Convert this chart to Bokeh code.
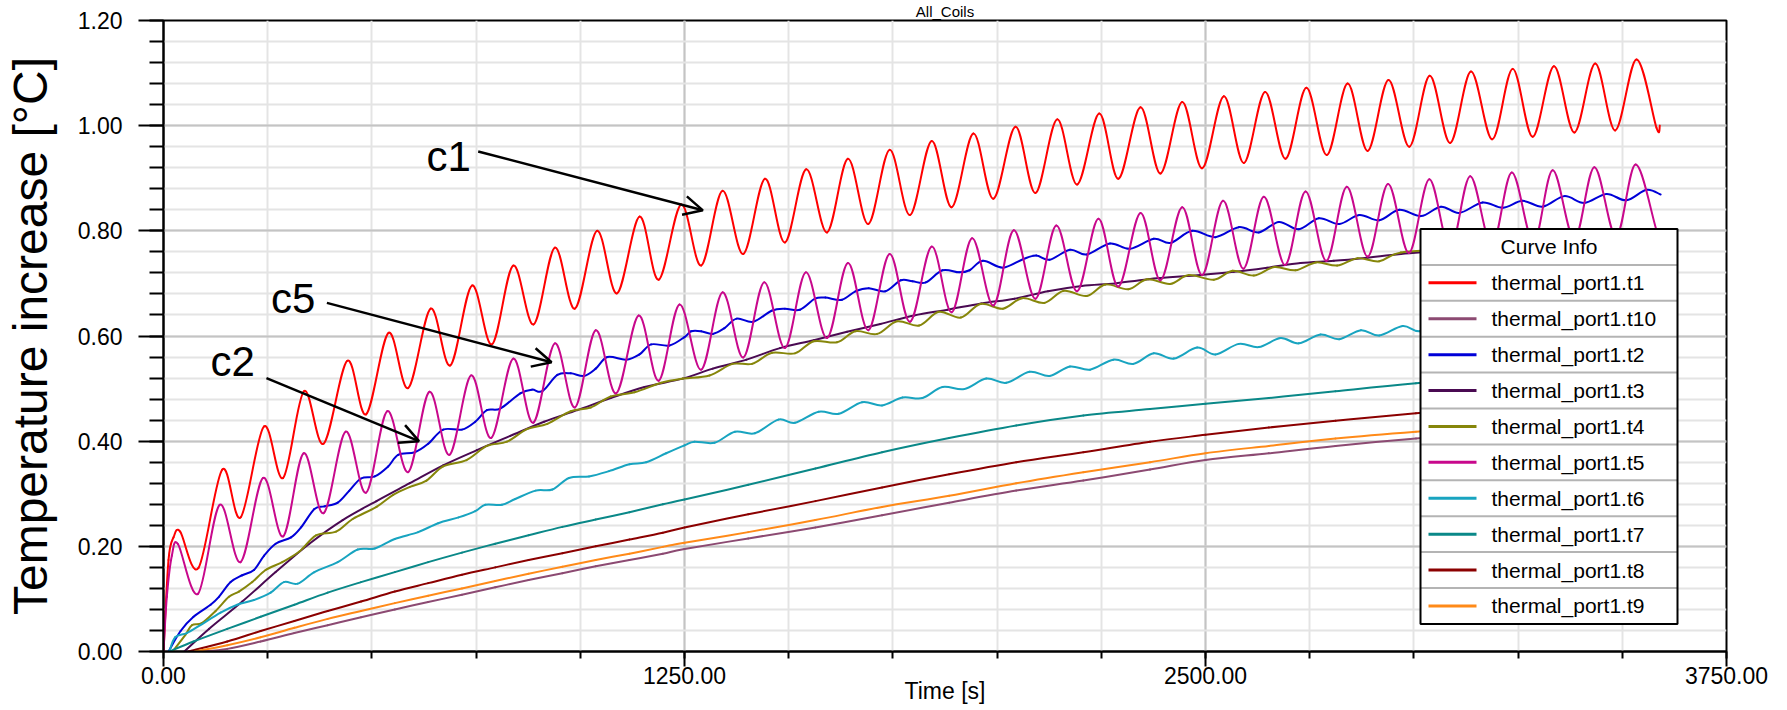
from bokeh.plotting import figure
from bokeh.models import (Range1d, FixedTicker, PrintfTickFormatter,
                          Arrow, OpenHead, Label)
from bokeh.core.properties import value
from bokeh.embed import file_html
from bokeh.resources import INLINE

# ---------------- texts / ticks ----------------
TITLE = "All_Coils"
X_LABEL = "Time [s]"
Y_LABEL = "Temperature increase [°C]"
LEGEND_TITLE = "Curve Info"
X_TICKS = [0, 1250, 2500, 3750]
X_MINOR = [0, 250, 500, 750, 1000, 1250, 1500, 1750, 2000, 2250, 2500,
           2750, 3000, 3250, 3500, 3750]
Y_TICKS = [0.0, 0.2, 0.4, 0.6, 0.8, 1.0, 1.2]
Y_MINOR = [0.00, 0.04, 0.08, 0.12, 0.16, 0.20, 0.24, 0.28, 0.32, 0.36, 0.40,
           0.44, 0.48, 0.52, 0.56, 0.60, 0.64, 0.68, 0.72, 0.76, 0.80, 0.84,
           0.88, 0.92, 0.96, 1.00, 1.04, 1.08, 1.12, 1.16, 1.20]

# ---------------- data: (time [s], temperature increase [°C]) ----------------
T1 = [(0, 0.0), (12, 0.174), (24, 0.217), (40, 0.228),
      (84, 0.159), (141, 0.346), (185, 0.255), (241, 0.428), (287, 0.330), (337, 0.495),
      (384, 0.395), (441, 0.553), (486, 0.451), (540, 0.606), (587, 0.501), (641, 0.652),
      (688, 0.544), (740, 0.696), (788, 0.584), (839, 0.734), (888, 0.622), (939, 0.768),
      (987, 0.652), (1040, 0.800), (1088, 0.681), (1142, 0.827), (1188, 0.707), (1242, 0.850),
      (1290, 0.734), (1341, 0.876), (1391, 0.756), (1443, 0.899), (1491, 0.778), (1542, 0.917),
      (1592, 0.797), (1642, 0.937), (1691, 0.813), (1742, 0.954), (1791, 0.830), (1843, 0.971),
      (1891, 0.845), (1943, 0.985), (1991, 0.861), (2044, 0.998), (2092, 0.872), (2144, 1.012),
      (2192, 0.888), (2245, 1.023), (2291, 0.899), (2344, 1.035), (2392, 0.909), (2444, 1.045),
      (2492, 0.919), (2544, 1.056), (2592, 0.929), (2643, 1.064), (2692, 0.937), (2742, 1.072),
      (2791, 0.944), (2841, 1.080), (2889, 0.952), (2939, 1.087), (2989, 0.960), (3038, 1.095),
      (3087, 0.967), (3137, 1.103), (3188, 0.974), (3237, 1.108), (3285, 0.979), (3336, 1.113),
      (3385, 0.987), (3435, 1.118), (3483, 0.991), (3534, 1.126), (3582, 0.996), (3590, 1.000)]

T10 = [(90, 0.0), (153, 0.005), (233, 0.019), (314, 0.035), (394, 0.050), (474, 0.065),
       (555, 0.080), (635, 0.094), (716, 0.108), (796, 0.122), (876, 0.136), (957, 0.149),
       (1037, 0.162), (1118, 0.174), (1198, 0.186), (1250, 0.195), (1403, 0.215), (1564, 0.236),
       (1724, 0.259), (1885, 0.283), (2046, 0.306), (2207, 0.325), (2367, 0.346), (2500, 0.364),
       (2652, 0.377), (2812, 0.391), (3005, 0.405), (3300, 0.423), (3600, 0.440)]

T2 = [(12, 0.0), (41, 0.039), (72, 0.066), (113, 0.089), (133, 0.104), (161, 0.132),
      (189, 0.145), (217, 0.155), (241, 0.182), (269, 0.205), (306, 0.217), (330, 0.236),
      (362, 0.271), (386, 0.276), (418, 0.283), (446, 0.306), (474, 0.329), (507, 0.333),
      (539, 0.352), (563, 0.374), (603, 0.379), (635, 0.395), (671, 0.422), (716, 0.422),
      (748, 0.437), (776, 0.459), (808, 0.462), (856, 0.491), (884, 0.498), (909, 0.495),
      (945, 0.526), (977, 0.529), (1009, 0.524), (1037, 0.538), (1065, 0.560), (1110, 0.555),
      (1142, 0.565), (1170, 0.584), (1214, 0.582), (1250, 0.598), (1266, 0.609), (1290, 0.609),
      (1318, 0.604), (1346, 0.615), (1375, 0.633), (1415, 0.627), (1459, 0.648), (1491, 0.652),
      (1527, 0.650), (1563, 0.671), (1588, 0.673), (1628, 0.669), (1660, 0.685), (1692, 0.691),
      (1732, 0.685), (1769, 0.706), (1797, 0.704), (1829, 0.702), (1869, 0.725), (1909, 0.721),
      (1934, 0.725), (1966, 0.743), (2014, 0.730), (2062, 0.746), (2094, 0.753), (2126, 0.745),
      (2175, 0.764), (2215, 0.755), (2271, 0.776), (2319, 0.766), (2376, 0.785), (2416, 0.777),
      (2468, 0.800), (2524, 0.788), (2580, 0.807), (2628, 0.797), (2676, 0.817), (2724, 0.803),
      (2772, 0.824), (2821, 0.813), (2869, 0.830), (2917, 0.820), (2965, 0.840), (3017, 0.828),
      (3065, 0.846), (3109, 0.834), (3165, 0.854), (3213, 0.844), (3261, 0.857), (3309, 0.846),
      (3361, 0.866), (3409, 0.853), (3462, 0.870), (3510, 0.858), (3558, 0.878), (3592, 0.869)]

T3 = [(50, 0.0), (109, 0.043), (189, 0.095), (269, 0.151), (350, 0.205), (430, 0.250),
      (511, 0.286), (591, 0.320), (671, 0.354), (752, 0.383), (832, 0.410), (913, 0.437),
      (993, 0.459), (1073, 0.482), (1154, 0.503), (1246, 0.519), (1318, 0.538), (1399, 0.555),
      (1479, 0.577), (1560, 0.592), (1640, 0.608), (1720, 0.623), (1801, 0.639), (1881, 0.650),
      (1962, 0.662), (2042, 0.671), (2122, 0.685), (2203, 0.695), (2283, 0.700), (2363, 0.708),
      (2488, 0.716), (2568, 0.722), (2648, 0.730), (2728, 0.739), (2808, 0.743), (2889, 0.749),
      (2969, 0.756), (3100, 0.764), (3300, 0.775), (3600, 0.790)]

T4 = [(22, 0.0), (52, 0.031), (68, 0.050), (92, 0.054), (125, 0.077), (157, 0.104),
      (181, 0.114), (213, 0.132), (245, 0.155), (285, 0.170), (326, 0.190), (366, 0.221),
      (414, 0.228), (454, 0.252), (511, 0.275), (551, 0.298), (591, 0.313), (631, 0.325),
      (671, 0.352), (727, 0.364), (776, 0.391), (824, 0.399), (872, 0.423), (921, 0.433),
      (977, 0.457), (1025, 0.464), (1073, 0.485), (1130, 0.493), (1194, 0.511), (1246, 0.519),
      (1310, 0.525), (1365, 0.547), (1412, 0.547), (1460, 0.568), (1515, 0.567), (1560, 0.590),
      (1616, 0.588), (1660, 0.609), (1712, 0.604), (1760, 0.628), (1813, 0.620), (1860, 0.646),
      (1913, 0.635), (1960, 0.661), (2014, 0.652), (2060, 0.672), (2114, 0.663), (2160, 0.686),
      (2215, 0.676), (2260, 0.698), (2315, 0.689), (2360, 0.708), (2415, 0.699), (2460, 0.716),
      (2520, 0.707), (2565, 0.724), (2616, 0.715), (2665, 0.731), (2716, 0.725), (2765, 0.740),
      (2816, 0.734), (2865, 0.748), (2917, 0.742), (2969, 0.759), (3100, 0.765), (3300, 0.775),
      (3600, 0.790)]

T5 = [(0, 0.0), (8, 0.104), (20, 0.182), (35, 0.204),
      (83, 0.110), (135, 0.279), (185, 0.170), (239, 0.330), (287, 0.219), (336, 0.377),
      (384, 0.263), (437, 0.418), (486, 0.302), (537, 0.457), (587, 0.341), (638, 0.494),
      (686, 0.374), (738, 0.525), (786, 0.406), (839, 0.557), (887, 0.435), (939, 0.586),
      (987, 0.464), (1037, 0.611), (1086, 0.491), (1140, 0.639), (1188, 0.515), (1238, 0.660),
      (1290, 0.536), (1341, 0.683), (1391, 0.559), (1441, 0.702), (1491, 0.577), (1541, 0.721),
      (1592, 0.596), (1642, 0.739), (1691, 0.611), (1742, 0.756), (1791, 0.627), (1843, 0.770),
      (1891, 0.645), (1940, 0.786), (1991, 0.658), (2040, 0.801), (2092, 0.671), (2142, 0.810),
      (2192, 0.685), (2243, 0.823), (2291, 0.694), (2344, 0.834), (2392, 0.706), (2444, 0.845),
      (2492, 0.716), (2542, 0.857), (2591, 0.728), (2640, 0.865), (2691, 0.735), (2740, 0.875),
      (2790, 0.743), (2839, 0.884), (2889, 0.751), (2938, 0.889), (2988, 0.758), (3037, 0.898),
      (3087, 0.765), (3135, 0.904), (3187, 0.772), (3235, 0.911), (3287, 0.778), (3333, 0.915),
      (3385, 0.784), (3433, 0.921), (3485, 0.789), (3532, 0.926), (3585, 0.794), (3600, 0.800)]

T6 = [(14, 0.0), (28, 0.027), (56, 0.035), (88, 0.050), (137, 0.074), (177, 0.089),
      (217, 0.098), (257, 0.112), (289, 0.132), (322, 0.129), (362, 0.151), (418, 0.170),
      (466, 0.194), (507, 0.196), (555, 0.214), (611, 0.227), (659, 0.244), (708, 0.255),
      (748, 0.267), (772, 0.279), (812, 0.279), (844, 0.290), (893, 0.306), (933, 0.308),
      (973, 0.330), (1021, 0.333), (1069, 0.343), (1118, 0.356), (1158, 0.360), (1206, 0.377),
      (1250, 0.392), (1274, 0.399), (1322, 0.397), (1371, 0.418), (1419, 0.415), (1475, 0.441),
      (1515, 0.435), (1572, 0.456), (1620, 0.452), (1676, 0.474), (1724, 0.468), (1773, 0.483),
      (1821, 0.482), (1869, 0.503), (1921, 0.499), (1974, 0.519), (2022, 0.511), (2078, 0.532),
      (2126, 0.524), (2175, 0.542), (2223, 0.536), (2279, 0.555), (2327, 0.547), (2376, 0.567),
      (2424, 0.557), (2480, 0.578), (2524, 0.565), (2580, 0.585), (2628, 0.579), (2680, 0.596),
      (2724, 0.586), (2776, 0.603), (2821, 0.594), (2873, 0.611), (2917, 0.601), (2973, 0.619),
      (3014, 0.609), (3075, 0.627), (3300, 0.640), (3600, 0.660)]

T7 = [(14, 0.0), (72, 0.019), (153, 0.043), (233, 0.066), (314, 0.089), (394, 0.112),
      (474, 0.132), (555, 0.151), (635, 0.170), (716, 0.188), (796, 0.205), (876, 0.221),
      (957, 0.237), (1037, 0.251), (1118, 0.265), (1198, 0.280), (1250, 0.289), (1403, 0.317),
      (1564, 0.348), (1724, 0.379), (1885, 0.406), (2046, 0.430), (2207, 0.449), (2367, 0.461),
      (2500, 0.471), (2652, 0.482), (2812, 0.495), (3005, 0.510), (3300, 0.530), (3600, 0.550)]

T8 = [(60, 0.0), (153, 0.019), (233, 0.039), (314, 0.058), (394, 0.077), (474, 0.095),
      (555, 0.114), (635, 0.130), (716, 0.146), (796, 0.160), (876, 0.174), (957, 0.187),
      (1037, 0.200), (1118, 0.213), (1198, 0.226), (1250, 0.236), (1403, 0.261), (1564, 0.286),
      (1724, 0.312), (1885, 0.337), (2046, 0.360), (2207, 0.379), (2367, 0.399), (2500, 0.412),
      (2652, 0.426), (2812, 0.439), (3005, 0.453), (3300, 0.472), (3600, 0.490)]

T9 = [(75, 0.0), (153, 0.012), (233, 0.027), (314, 0.045), (394, 0.062), (474, 0.077),
      (555, 0.092), (635, 0.106), (716, 0.120), (796, 0.134), (876, 0.148), (957, 0.161),
      (1037, 0.174), (1118, 0.186), (1198, 0.199), (1250, 0.207), (1403, 0.227), (1564, 0.250),
      (1724, 0.275), (1885, 0.296), (2046, 0.320), (2207, 0.341), (2367, 0.360), (2500, 0.377),
      (2652, 0.391), (2812, 0.405), (3005, 0.418), (3300, 0.435), (3600, 0.452)]

SERIES_NAMES = ["thermal_port1.t1", "thermal_port1.t10", "thermal_port1.t2", "thermal_port1.t3",
                "thermal_port1.t4", "thermal_port1.t5", "thermal_port1.t6", "thermal_port1.t7",
                "thermal_port1.t8", "thermal_port1.t9"]
SERIES_DATA = [T1, T10, T2, T3, T4, T5, T6, T7, T8, T9]

# annotations: label, text anchor (t, v; left/middle), arrow start (t, v), arrow tip (t, v)
ANNOTATIONS = [
    ("c1", (631, 0.941), (755, 0.951), (1294, 0.839)),
    ("c5", (258, 0.671), (392, 0.663), (931, 0.550)),
    ("c2", (113, 0.551), (247, 0.520), (613, 0.400)),
]

# ---------------- styles ----------------
COLORS = ["#ff0000", "#8c4a72", "#0000d8", "#4a0a52", "#86860a",
          "#c8088c", "#18a4c0", "#0a8888", "#8b0000", "#ff8a18"]
FONT = "Liberation Sans"

X_MAX, Y_MAX = 3750.0, 1.2
W, H = 1787, 710
# frame in canvas pixel coordinates
FL, FT, FW, FH = 163, 20, 1563, 631
FB = FT + FH


def px_t(px):
    return (px - FL) * X_MAX / FW


def px_v(py):
    return (FB - py) * Y_MAX / FH


def smooth_segments(pts):
    """Cubic Bezier pieces through the read points (Catmull-Rom tangents)."""
    xs = [a for a, b in pts]
    ys = [b for a, b in pts]
    n = len(xs)
    out = {k: [] for k in ("x0", "y0", "x1", "y1", "cx0", "cy0", "cx1", "cy1")}
    for i in range(n - 1):
        ip = max(i - 1, 0)
        inn = min(i + 2, n - 1)
        out["x0"].append(xs[i]); out["y0"].append(ys[i])
        out["x1"].append(xs[i + 1]); out["y1"].append(ys[i + 1])
        out["cx0"].append(xs[i] + (xs[i + 1] - xs[ip]) / 6.0)
        out["cy0"].append(ys[i] + (ys[i + 1] - ys[ip]) / 6.0)
        out["cx1"].append(xs[i + 1] - (xs[inn] - xs[i]) / 6.0)
        out["cy1"].append(ys[i + 1] - (ys[inn] - ys[i]) / 6.0)
    return out


p = figure(width=W, height=H, x_range=Range1d(0, X_MAX), y_range=Range1d(0, Y_MAX),
           output_backend="svg", toolbar_location=None,
           min_border_left=FL, min_border_right=W - FL - FW,
           min_border_top=FT, min_border_bottom=H - FB)
p.background_fill_color = "white"
p.border_fill_color = "white"
p.outline_line_color = "black"
p.outline_line_width = 2

# title (small, kept inside the top border)
p.title.text = TITLE
p.title.align = "center"
p.title.offset = -37
p.title.standoff = 1
p.title.text_font = FONT
p.title.text_font_size = "15px"
p.title.text_font_style = "normal"
p.title.text_color = "black"

# axes
xa = p.xaxis[0]
xa.ticker = FixedTicker(ticks=X_TICKS, minor_ticks=X_MINOR)
xa.formatter = PrintfTickFormatter(format="%.2f")
xa.major_tick_out, xa.major_tick_in = 15, 0
xa.minor_tick_out, xa.minor_tick_in = 7, 0
xa.major_label_standoff = 0
xa.axis_label = X_LABEL
xa.axis_label_text_font = FONT
xa.axis_label_text_font_size = "23px"
xa.axis_label_text_font_style = "normal"
xa.axis_label_text_color = "black"
xa.axis_label_standoff = -9

ya = p.yaxis[0]
ya.ticker = FixedTicker(ticks=Y_TICKS, minor_ticks=Y_MINOR)
ya.formatter = PrintfTickFormatter(format="%.2f")
ya.major_tick_out, ya.major_tick_in = 25, 0
ya.minor_tick_out, ya.minor_tick_in = 14, 0
ya.major_label_standoff = 16
ya.axis_label = Y_LABEL
ya.axis_label_text_font = FONT
ya.axis_label_text_font_size = "48px"
ya.axis_label_text_font_style = "normal"
ya.axis_label_text_color = "black"
ya.axis_label_standoff = 18

for ax in (xa, ya):
    ax.axis_line_color = "black"
    ax.axis_line_width = 2
    ax.major_tick_line_color = "black"
    ax.minor_tick_line_color = "black"
    ax.major_tick_line_width = 2
    ax.minor_tick_line_width = 2
    ax.major_label_text_font = FONT
    ax.major_label_text_font_size = "23px"
    ax.major_label_text_color = "black"

# grid
p.xgrid.ticker = FixedTicker(ticks=X_TICKS, minor_ticks=X_MINOR)
p.ygrid.ticker = FixedTicker(ticks=Y_TICKS, minor_ticks=Y_MINOR)
for g in (p.xgrid, p.ygrid):
    g.grid_line_color = "#c4c4c4"
    g.grid_line_width = 2
    g.minor_grid_line_color = "#e4e4e4"
    g.minor_grid_line_width = 2

# data curves (smooth curves through the read points)
for name, pts, col in zip(SERIES_NAMES, SERIES_DATA, COLORS):
    seg = smooth_segments(pts)
    p.bezier(line_color=col, line_width=2, line_cap="round", **seg)

# arrows + c-labels
for txt, (lx, ly), (sx, sy), (ex, ey) in ANNOTATIONS:
    p.add_layout(Arrow(end=OpenHead(size=19, line_width=2.5, line_color="black"),
                       x_start=sx, y_start=sy, x_end=ex, y_end=ey,
                       line_width=2.5, line_color="black"))
    p.add_layout(Label(x=lx, y=ly, text=txt, text_font=FONT, text_font_size="42px",
                       text_color="black", text_align="left", text_baseline="middle"))

# legend box ("Curve Info")
LEG_L, LEG_R, LEG_T, ROW = 1420, 1677, 228.5, 35.9
n = len(SERIES_NAMES)
LEG_B = LEG_T + ROW * (n + 1)
p.quad(left=px_t(LEG_L), right=px_t(LEG_R), top=px_v(LEG_T), bottom=px_v(LEG_B),
       fill_color="white", line_color=None, level="overlay")
sep_y = [px_v(LEG_T + ROW * (k + 1)) for k in range(n)]
p.segment(x0=[px_t(LEG_L)] * n, x1=[px_t(LEG_R)] * n, y0=sep_y, y1=sep_y,
          line_color="#b4b4b4", line_width=2, level="overlay")
p.quad(left=px_t(LEG_L), right=px_t(LEG_R), top=px_v(LEG_T), bottom=px_v(LEG_B),
       fill_color=None, line_color="black", line_width=2, level="overlay")
row_y = [px_v(LEG_T + ROW * (k + 1) + ROW / 2) for k in range(n)]
p.segment(x0=[px_t(1428)] * n, x1=[px_t(1476)] * n, y0=row_y, y1=row_y,
          line_color=COLORS, line_width=3, level="overlay")
p.text(x=[px_t(1491)] * n, y=row_y, text=SERIES_NAMES, text_font=value(FONT),
       text_font_size="21px", text_color="black", text_baseline="middle",
       text_align="left", level="overlay")
p.text(x=[px_t((LEG_L + LEG_R) / 2)], y=[px_v(LEG_T + ROW / 2)], text=[LEGEND_TITLE],
       text_font=value(FONT), text_font_size="21px", text_color="black",
       text_baseline="middle", text_align="center", level="overlay")

open("out.html", "w").write(file_html(p, INLINE))
